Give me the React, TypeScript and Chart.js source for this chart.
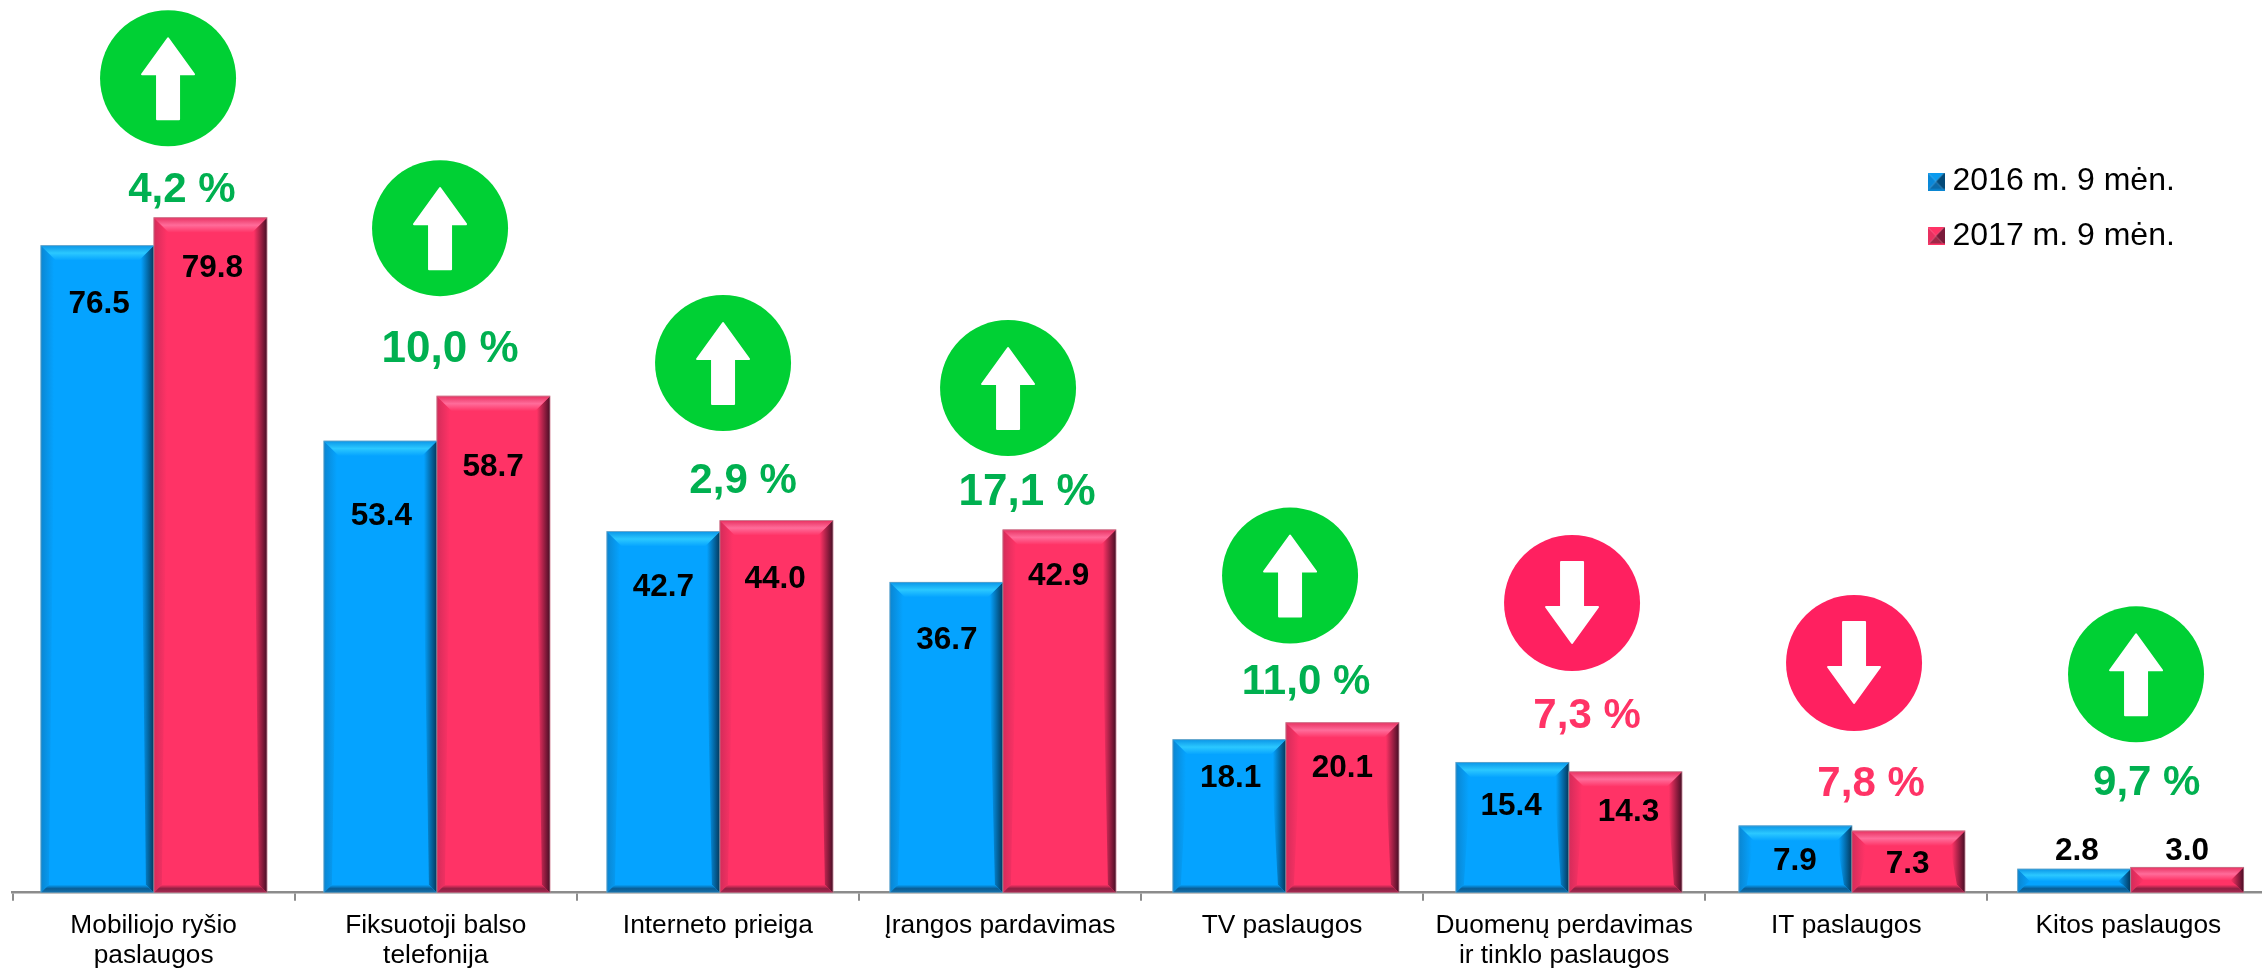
import React, { useEffect, useRef } from "react";
import { Chart, registerables } from "chart.js";

Chart.register(...registerables);

const categories = [
  ["Mobiliojo ryšio", "paslaugos"],
  ["Fiksuotoji balso", "telefonija"],
  "Interneto prieiga",
  "Įrangos pardavimas",
  "TV paslaugos",
  ["Duomenų perdavimas", "ir tinklo paslaugos"],
  "IT paslaugos",
  "Kitos paslaugos",
];
const series2016 = [76.5, 53.4, 42.7, 36.7, 18.1, 15.4, 7.9, 2.8];
const series2017 = [79.8, 58.7, 44.0, 42.9, 20.1, 14.3, 7.3, 3.0];
const seriesNames = ["2016 m. 9 mėn.", "2017 m. 9 mėn."];
const changes = ["4,2 %", "10,0 %", "2,9 %", "17,1 %", "11,0 %", "7,3 %", "7,8 %", "9,7 %"];
const directions = ["up", "up", "up", "up", "up", "down", "down", "up"];

// The bar groups of the source sit on a very slightly different pitch than the axis ticks
const barSlots = [0, 1, 2, 3, 4, 5, 6, 6.985];

// Hand-placed annotation offsets, as in the source slide
const badgeDx = [14.4, 4.3, 5.2, 8.1, 8, 7.9, 7.8, 7.7];
const badgeDy = [139.4, 168, 157.5, 141.8, 147.1, 159.4, 162.9, 193];
const changeDx = [28.2, 14.3, 25.2, 27.1, 24, 22.9, 24.8, 18.4];
const changeDy = [16, 34, 27.5, 24.8, 29, 34.4, 29.9, 72];
const changeSize = [42, 44, 42, 44, 42, 42, 42, 42];
const label2016Dy = [55, 72, 52, 55, 35, 40, 32, -21];
const label2017Dy = [47, 68, 55, 43, 42, 37, 30, -20];
const label2016Dx = [1.8, 0.9, 0, 0.5, 1.2, -1.3, -0.6, 2.7];
const label2017Dx = [2, -0.3, -1.2, -0.7, 0, 3.1, -0.8, -0.1];

const FONT = '"Liberation Sans", Arial, sans-serif';
const GREEN_BADGE = "#00D034";
const RED_BADGE = "#FF2060";
const GREEN_TEXT = "#00B050";
const RED_TEXT = "#FF3366";

const BLUE = {
  base: "#05A3FF",
  top: ["#0B96E8", "#2BC8FF", "#05A3FF"],
  left: ["#0A86D2", "#05A3FF"],
  right: ["#03385C", "#05A3FF"],
  bottom: ["#05A3FF", "#0A5C94", "#1A74AE"],
};
const PINK = {
  base: "#FF3366",
  top: ["#E83262", "#FF6C9A", "#FF3366"],
  left: ["#D42C5A", "#FF3366"],
  right: ["#4A0E26", "#FF3366"],
  bottom: ["#FF3366", "#8E1F42", "#A82C54"],
};

function poly(ctx: CanvasRenderingContext2D, pts: number[][], fill: any) {
  ctx.beginPath();
  pts.forEach((p, i) => (i ? ctx.lineTo(p[0], p[1]) : ctx.moveTo(p[0], p[1])));
  ctx.closePath();
  ctx.fillStyle = fill;
  ctx.fill();
}

function stops(g: CanvasGradient, cols: string[]) {
  cols.forEach((c, i) => g.addColorStop(i / (cols.length - 1), c));
  return g;
}

function bevel(ctx: CanvasRenderingContext2D, bar: any, pal: typeof BLUE) {
  const hw = bar.width / 2;
  const x0 = bar.x - hw;
  const x1 = bar.x + hw;
  const y0 = bar.y;
  const y1 = bar.base;
  const h = y1 - y0;
  const t = Math.min(15, h * 0.52);
  const b = Math.min(8, h * 0.48);
  const s = 13;

  const gl = ctx.createLinearGradient(x0, 0, x0 + s, 0);
  stops(gl, pal.left);
  poly(ctx, [[x0, y0], [x0 + t, y0 + t], [x0 + b, y1 - b], [x0, y1]], gl);

  const gr = ctx.createLinearGradient(x1, 0, x1 - s, 0);
  stops(gr, pal.right);
  poly(ctx, [[x1, y0], [x1 - t, y0 + t], [x1 - b, y1 - b], [x1, y1]], gr);

  const gt = ctx.createLinearGradient(0, y0, 0, y0 + t);
  stops(gt, pal.top);
  poly(ctx, [[x0, y0], [x1, y0], [x1 - t, y0 + t], [x0 + t, y0 + t]], gt);

  const gb = ctx.createLinearGradient(0, y1 - b, 0, y1);
  stops(gb, pal.bottom);
  poly(ctx, [[x0, y1], [x1, y1], [x1 - b, y1 - b], [x0 + b, y1 - b]], gb);

  ctx.strokeStyle = "rgba(170,170,170,0.55)";
  ctx.lineWidth = 1;
  ctx.strokeRect(x0, y0, x1 - x0, h);
}

function drawBadge(ctx: CanvasRenderingContext2D, cx: number, cy: number, dir: string) {
  ctx.beginPath();
  ctx.arc(cx, cy, 68, 0, Math.PI * 2);
  ctx.fillStyle = dir === "up" ? GREEN_BADGE : RED_BADGE;
  ctx.fill();
  const k = dir === "up" ? 1 : -1;
  const pts = [
    [0, -40],
    [26, -4],
    [11, -4],
    [11, 41],
    [-11, 41],
    [-11, -4],
    [-26, -4],
  ].map(([x, y]) => [cx + x, cy + k * y]);
  ctx.beginPath();
  pts.forEach((p, i) => (i ? ctx.lineTo(p[0], p[1]) : ctx.moveTo(p[0], p[1])));
  ctx.closePath();
  ctx.fillStyle = "#FFFFFF";
  ctx.strokeStyle = "#FFFFFF";
  ctx.lineWidth = 2;
  ctx.lineJoin = "round";
  ctx.fill();
  ctx.stroke();
}

function legendMarker(pal: { tri: string[]; edge: string }) {
  const c = document.createElement("canvas");
  c.width = 17;
  c.height = 18;
  const g = c.getContext("2d") as CanvasRenderingContext2D;
  const [t, r, b, l] = pal.tri;
  const m = [8.5, 9];
  poly(g, [[0, 0], [17, 0], m], t);
  poly(g, [[17, 0], [17, 18], m], r);
  poly(g, [[0, 18], [17, 18], m], b);
  poly(g, [[0, 0], [0, 18], m], l);
  g.fillStyle = pal.edge;
  g.fillRect(0, 16.5, 17, 1.5);
  return c;
}

const annotations = {
  id: "annotations",
  beforeDraw(chart: any) {
    const lg = chart.legend;
    if (lg) {
      const w = lg.width;
      const h = lg.height;
      lg.left = 1913;
      lg.right = 1913 + w;
      lg.top = 143;
      lg.bottom = 143 + h;
    }
  },
  afterDatasetsDraw(chart: any) {
    const ctx: CanvasRenderingContext2D = chart.ctx;
    const m0 = chart.getDatasetMeta(0).data;
    const m1 = chart.getDatasetMeta(1).data;
    ctx.save();
    m0.forEach((b: any) => bevel(ctx, b, BLUE));
    m1.forEach((b: any) => bevel(ctx, b, PINK));

    ctx.textAlign = "center";
    ctx.textBaseline = "middle";
    ctx.fillStyle = "#000000";
    ctx.font = `bold 31.5px ${FONT}`;
    m0.forEach((b: any, i: number) =>
      ctx.fillText(series2016[i].toFixed(1), b.x + label2016Dx[i], b.y + label2016Dy[i] + 3.5)
    );
    m1.forEach((b: any, i: number) =>
      ctx.fillText(series2017[i].toFixed(1), b.x + label2017Dx[i], b.y + label2017Dy[i] + 3.5)
    );

    const xs = chart.scales.x;
    changes.forEach((txt, i) => {
      const cx = xs.getPixelForValue(i);
      const top = Math.min(m0[i].y, m1[i].y);
      drawBadge(ctx, cx + badgeDx[i], top - badgeDy[i], directions[i]);
      ctx.font = `bold ${changeSize[i]}px ${FONT}`;
      ctx.textBaseline = "alphabetic";
      ctx.fillStyle = directions[i] === "up" ? GREEN_TEXT : RED_TEXT;
      ctx.fillText(txt, cx + changeDx[i], top - changeDy[i]);
    });
    ctx.restore();
  },
};

export default function App() {
  const ref = useRef<HTMLCanvasElement>(null);

  useEffect(() => {
    if (!ref.current) return;
    const markers = [
      legendMarker({ tri: ["#0A9BEF", "#044A78", "#0B6BAA", "#0A88D8"], edge: "#0A86D2" }),
      legendMarker({ tri: ["#FF3366", "#7A1A3A", "#A02848", "#E83060"], edge: "#FF3366" }),
    ];
    const toPoints = (vals: number[]) => vals.map((y, i) => ({ x: barSlots[i], y }));
    const chart = new Chart(ref.current, {
      type: "bar",
      data: {
        labels: categories as any,
        datasets: [
          {
            label: seriesNames[0],
            data: toPoints(series2016),
            xAxisID: "bars",
            backgroundColor: BLUE.base,
            borderWidth: 0,
            barThickness: 113,
          },
          {
            label: seriesNames[1],
            data: toPoints(series2017),
            xAxisID: "bars",
            backgroundColor: PINK.base,
            borderWidth: 0,
            barThickness: 113,
          },
        ] as any,
      },
      plugins: [annotations],
      options: {
        responsive: false,
        animation: false,
        events: [],
        layout: { padding: { top: 46.8, left: 12.6, right: 2.6, bottom: 0 } },
        scales: {
          x: {
            type: "category",
            offset: true,
            afterFit(scale: any) {
              scale.height = 76.3;
            },
            grid: {
              offset: true,
              drawOnChartArea: false,
              drawTicks: true,
              tickLength: 8,
              color: "#8C8C8C",
              lineWidth: 2,
            },
            border: { display: true, color: "#8C8C8C", width: 2.5 },
            ticks: {
              autoSkip: false,
              maxRotation: 0,
              minRotation: 0,
              color: "#000000",
              padding: 10.5,
              font: { family: FONT, size: 26.3, lineHeight: 1.14 },
            },
          },
          bars: {
            type: "linear",
            axis: "x",
            display: false,
            offset: false,
            min: -0.4993,
            max: 7.4753,
          },
          y: { display: false, min: 0, max: 100 },
        } as any,
        plugins: {
          title: { display: false },
          tooltip: { enabled: false },
          legend: {
            display: true,
            position: "chartArea" as any,
            align: "start",
            labels: {
              usePointStyle: true,
              boxWidth: 1,
              padding: 22.5,
              color: "#000000",
              font: { family: FONT, size: 32 },
              generateLabels: () =>
                seriesNames.map((text, i) => ({
                  text,
                  pointStyle: markers[i] as any,
                  datasetIndex: i,
                  fillStyle: i ? PINK.base : BLUE.base,
                  strokeStyle: "transparent",
                  lineWidth: 0,
                  hidden: false,
                })),
            },
          },
        },
      },
    });
    return () => chart.destroy();
  }, []);

  return (
    <div
      style={{
        position: "fixed",
        left: 0,
        top: 0,
        width: 2262,
        height: 969,
        overflow: "hidden",
        background: "#FFFFFF",
      }}
    >
      <canvas ref={ref} width={2272} height={969} style={{ display: "block" }} />
    </div>
  );
}
